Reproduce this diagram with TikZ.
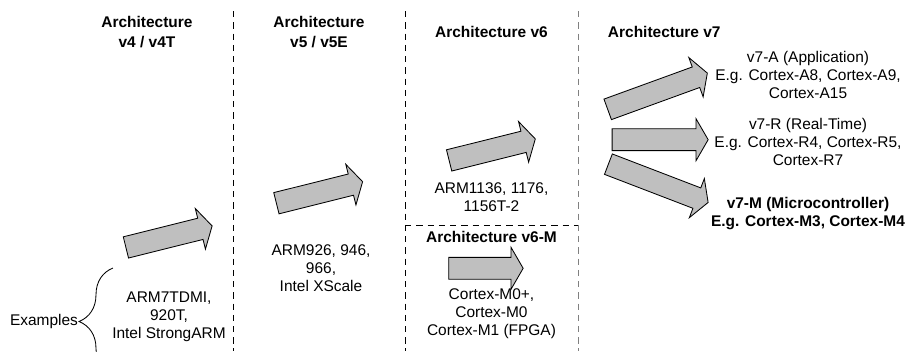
\documentclass[tikz,border=0pt]{standalone}
\usepackage{fontspec}
\setmainfont{Liberation Sans}
\usetikzlibrary{shapes.arrows}
\usetikzlibrary{decorations.pathreplacing}
\newcommand{\labelfont}{\fontsize{11pt}{12.8pt}\selectfont}
\tikzset{archhead/.style={font=\labelfont\bfseries, align=center}}
\tikzset{cpulist/.style={font=\labelfont, align=center}}
\tikzset{bigarrow/.style={single arrow, draw, fill=gray!50, line width=0.6pt, anchor=tail, inner xsep=0pt, inner ysep=0.2625cm, single arrow head extend=0.25cm, single arrow tip angle=120}}
\tikzset{divider/.style={line width=0.6pt, dash pattern=on 4.5pt off 3.5pt}}

\begin{document}
\begin{tikzpicture}[x=0.025cm, y=-0.025cm]

\useasboundingbox (0,0) rectangle (906,351);
\clip (0,0) rectangle (906,351);

% column dividers
\coordinate (d45top) at (233, 11);
\coordinate (d45bot) at (233, 351);
\coordinate (d56top) at (405, 11);
\coordinate (d56bot) at (405, 351);
\coordinate (d67top) at (578, 11);
\coordinate (d67bot) at (578, 351);
\coordinate (d6left) at (405, 225.5);
\coordinate (d6right) at (578, 225.5);

\draw[divider] (d45top) -- (d45bot);
\draw[divider] (d56top) -- (d56bot);
\draw[divider, gray] (d67top) -- (d67bot);
\draw[divider] (d6left) -- (d6right);

% headings
\node[archhead] (h4) at (147, 31.7) {Architecture\\[1.4pt]v4 / v4T};
\node[archhead] (h5) at (319, 31.7) {Architecture\\[1.4pt]v5 / v5E};
\node[archhead] (h6) at (491.5, 31.7) {Architecture v6};
\node[archhead, anchor=west] (h7) at (603, 31.7) {Architecture v7};
\node[archhead] (h6m) at (491.5, 236.7) {Architecture v6-M};

% big arrows
\node[bigarrow, minimum height=2.22cm, rotate=14] (a4) at (125.5, 247.5) {};
\node[bigarrow, minimum height=2.22cm, rotate=14] (a5) at (276, 203.3) {};
\node[bigarrow, minimum height=2.22cm, rotate=14] (a6) at (448.7, 160.5) {};
\node[bigarrow, minimum height=1.86cm] (a6m) at (448.3, 268.3) {};
\node[bigarrow, minimum height=2.65cm, rotate=20] (a7a) at (607.3, 109.5) {};
\node[bigarrow, minimum height=2.4cm] (a7r) at (611.7, 139.7) {};
\node[bigarrow, minimum height=2.67cm, rotate=-21] (a7m) at (608, 164) {};

% processor lists
\node[cpulist] (c4) at (169, 317) {ARM7TDMI,\\920T,\\Intel StrongARM};
\node[cpulist] (c5) at (321, 268) {ARM926, 946,\\966,\\Intel XScale};
\node[cpulist] (c6) at (491.5, 197) {ARM1136, 1176,\\1156T-2};
\node[cpulist] (c6m) at (491.5, 314) {Cortex-M0+,\\Cortex-M0\\Cortex-M1 (FPGA)};
\node[cpulist] (v7a) at (808, 75) {v7-A (Application)\\E.g. Cortex-A8, Cortex-A9,\\Cortex-A15};
\node[cpulist] (v7r) at (808, 142) {v7-R (Real-Time)\\E.g. Cortex-R4, Cortex-R5,\\Cortex-R7};
\node[archhead] (v7m) at (808, 213.5) {v7-M (Microcontroller)\\E.g. Cortex-M3, Cortex-M4};

% examples brace
\node[cpulist] (ex) at (44, 321.7) {Examples};
\coordinate (brtop) at (113, 268);
\coordinate (brbot) at (113, 375);
\draw[decorate, decoration={brace, amplitude=0.85cm}, line width=0.6pt] (brbot) -- (brtop);

\end{tikzpicture}
\end{document}
